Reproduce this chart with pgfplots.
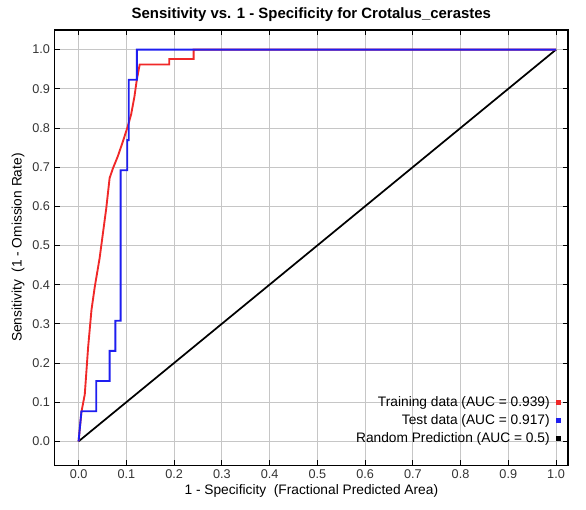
\documentclass[border=0pt]{standalone}
\usepackage{fontspec}
\setmainfont{Liberation Sans}
\usepackage{pgfplots}
\pgfplotsset{compat=1.18}
\definecolor{trainred}{RGB}{240,40,40}
\definecolor{testblue}{RGB}{30,30,240}
\begin{document}
\begin{tikzpicture}
\begin{axis}[
  at={(0,0)}, anchor=south west,
  scale only axis,
  width=384.75pt, height=326.25pt,
  xmin=-0.05, xmax=1.025, ymin=-0.061, ymax=1.05,
  xtick={0,0.1,...,1.0}, ytick={0,0.1,...,1.0},
  /pgf/number format/.cd, fixed, fixed zerofill, precision=1, assume math mode=true,
  /pgfplots/.cd,
  tick label style={font=\fontsize{9.5}{11}\selectfont, text=black!80},
  tick align=inside,
  major tick length=4pt,
  tick style={black, line width=0.6pt},
  grid=major,
  major grid style={gray!45, line width=0.5pt},
  axis line style={black, line width=0.9pt},
  title={\bfseries Sensitivity vs. 1 - Specificity for Crotalus\_cerastes},
  title style={font=\fontsize{11.2}{13}\selectfont, yshift=-3pt},
  xlabel={1 - Specificity\ \ (Fractional Predicted Area)},
  ylabel={Sensitivity\ \ (1 - Omission Rate)},
  label style={font=\fontsize{10.3}{12}\selectfont},
  xlabel style={yshift=3pt},
  ylabel style={yshift=-1pt},
  legend style={at={(0.994,0.035)}, anchor=south east, draw=none, fill=none,
    font=\fontsize{10.3}{12}\selectfont, row sep=0.5pt, column sep=3pt},
  legend cell align=right,
  legend plot pos=right,
]
\addplot[black, line width=1.3pt, forget plot] coordinates {(0,0) (1,1)};
\addplot[trainred, line width=1.4pt, forget plot] coordinates {
(0,0) (0.006,0.075) (0.013,0.12) (0.02,0.24) (0.027,0.335) (0.034,0.395)
(0.044,0.467) (0.051,0.531) (0.058,0.595) (0.065,0.672) (0.072,0.697)
(0.082,0.727) (0.093,0.766) (0.103,0.804) (0.11,0.834) (0.117,0.88)
(0.122,0.923) (0.128,0.962) (0.19,0.962) (0.19,0.976) (0.241,0.976)
(0.241,1.0) (1.0,1.0)};
\addplot[testblue, line width=1.4pt, forget plot] coordinates {
(0,0) (0.006,0.077) (0.037,0.077) (0.037,0.154) (0.065,0.154) (0.065,0.231)
(0.077,0.231) (0.077,0.308) (0.088,0.308) (0.088,0.692) (0.102,0.692)
(0.102,0.769) (0.105,0.769) (0.105,0.923) (0.122,0.923) (0.122,1.0) (1.0,1.0)};
\addlegendimage{only marks, mark=square*, mark size=1.6pt, trainred}
\addlegendentry{Training data (AUC = 0.939)}
\addlegendimage{only marks, mark=square*, mark size=1.6pt, testblue}
\addlegendentry{Test data (AUC = 0.917)}
\addlegendimage{only marks, mark=square*, mark size=1.6pt, black}
\addlegendentry{Random Prediction (AUC = 0.5)}
\end{axis}
\pgfresetboundingbox
\path[use as bounding box] (-41pt,-33pt) rectangle (398.25pt,348.75pt);
\end{tikzpicture}
\end{document}
